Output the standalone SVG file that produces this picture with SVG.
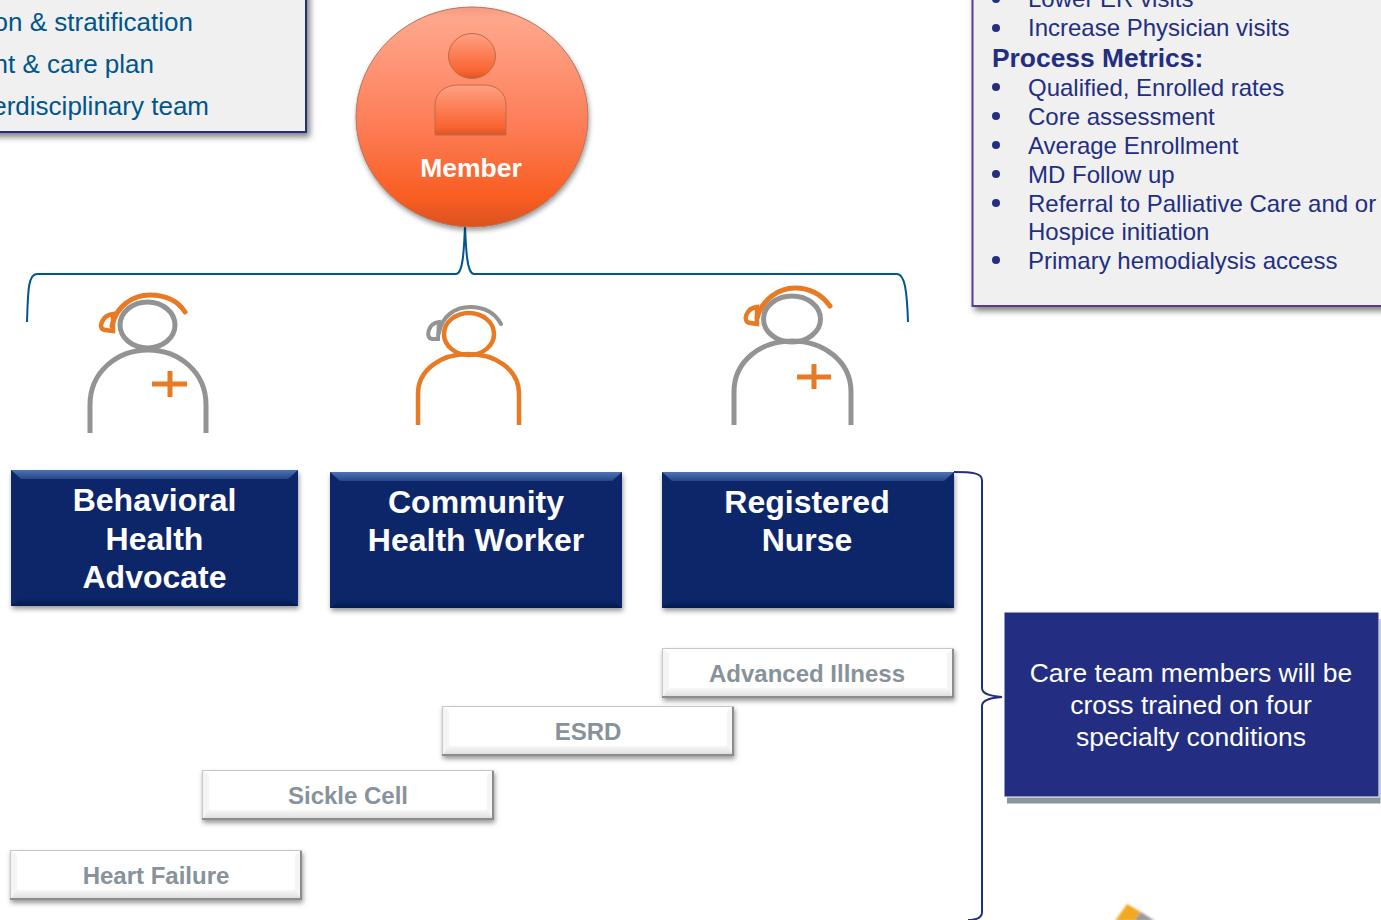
<svg xmlns="http://www.w3.org/2000/svg" width="1381" height="920" viewBox="0 0 1381 920">
<style>
text{font-family:"Liberation Sans",Arial,sans-serif}
.b{font-size:26px;fill:#00558c}
.m{font-size:24px;fill:#232e82}
.h{font-size:26.400px;font-weight:bold;fill:#232e82}
.r{font-size:32px;font-weight:bold;fill:#fff;text-anchor:middle}
.s{font-size:24px;font-weight:bold;fill:#87929a;text-anchor:middle}
.c{font-size:26.500px;fill:#fff;text-anchor:middle}
.conn{fill:none;stroke-width:2}
.gray{fill:none;stroke:#939393;stroke-width:5}
.org{fill:none;stroke:#e97a24;stroke-width:4.500}
.gt{fill:none;stroke:#939393;stroke-width:4;stroke-linecap:round}
.ot{fill:none;stroke:#e97a24;stroke-width:5;stroke-linecap:round}
.plus{fill:none;stroke:#e97a24;stroke-width:5}
.navy{fill:#08266a}
.tb{fill:url(#navTop)}
.bb{fill:url(#navBot)}
.white{fill:#fff;stroke:#c8c8c8;stroke-width:1}
.wb{fill:url(#whtB)}
.ws{fill:#f4f4f4}
.edge{fill:none;stroke:#8c8c8c;stroke-width:2}
</style>
<defs>
<filter id="sh" x="-10%" y="-10%" width="120%" height="130%"><feDropShadow dx="1" dy="3" stdDeviation="2.500" flood-color="#000" flood-opacity=".4"/></filter>
<filter id="sh2" x="-10%" y="-10%" width="120%" height="130%"><feDropShadow dx="3" dy="4" stdDeviation="3" flood-color="#000" flood-opacity=".5"/></filter>
<filter id="blur1" x="-20%" y="-20%" width="140%" height="140%"><feGaussianBlur stdDeviation="1.200"/></filter>
<linearGradient id="ball" x1="0" y1="0" x2="0" y2="1"><stop offset="0" stop-color="#f39a80"/><stop offset=".05" stop-color="#ffa78d"/><stop offset=".55" stop-color="#fd7c56"/><stop offset=".86" stop-color="#f95e22"/><stop offset="1" stop-color="#d9531f"/></linearGradient>
<linearGradient id="fig" x1="0" y1="0" x2="0" y2="1"><stop offset="0" stop-color="#ffa084"/><stop offset=".85" stop-color="#f9632f"/><stop offset="1" stop-color="#d8562a"/></linearGradient>
<linearGradient id="navTop" x1="0" y1="0" x2="0" y2="1"><stop offset="0" stop-color="#5071b4"/><stop offset="1" stop-color="#264689"/></linearGradient>
<linearGradient id="navBot" x1="0" y1="0" x2="0" y2="1"><stop offset="0" stop-color="#08266a"/><stop offset="1" stop-color="#041a4c"/></linearGradient>
<linearGradient id="whtB" x1="0" y1="0" x2="0" y2="1"><stop offset="0" stop-color="#f8f8f8"/><stop offset="1" stop-color="#dcdcdc"/></linearGradient>
</defs>

<g id="scope-box"><rect x="-20" y="-10" width="326" height="142" fill="#f0f0f0" stroke="#232e82" stroke-width="2" filter="url(#sh2)"/>
<text class="b" x="193" y="31" text-anchor="end">on &amp; stratification</text>
<text class="b" x="154" y="73" text-anchor="end">nt &amp; care plan</text>
<text class="b" x="209" y="115" text-anchor="end">erdisciplinary team</text></g>

<g id="metrics-box"><rect x="972.500" y="-10" width="430" height="316" fill="#f0f0f0" stroke="#5a3d8a" stroke-width="2" filter="url(#sh2)"/>
<g fill="#232e82"><circle cx="996" cy="-1" r="4"/><circle cx="996" cy="28" r="4"/><circle cx="996" cy="87" r="4"/><circle cx="996" cy="116" r="4"/><circle cx="996" cy="145" r="4"/><circle cx="996" cy="174" r="4"/><circle cx="996" cy="203" r="4"/><circle cx="996" cy="260" r="4"/></g>
<text class="m" x="1028" y="7">Lower ER visits</text>
<text class="m" x="1028" y="36">Increase Physician visits</text>
<text class="h" x="992" y="67">Process Metrics:</text>
<text class="m" x="1028" y="96">Qualified, Enrolled rates</text>
<text class="m" x="1028" y="125">Core assessment</text>
<text class="m" x="1028" y="154">Average Enrollment</text>
<text class="m" x="1028" y="183">MD Follow up</text>
<text class="m" x="1028" y="212">Referral to Palliative Care and or</text>
<text class="m" x="1028" y="240">Hospice initiation</text>
<text class="m" x="1028" y="269">Primary hemodialysis access</text></g>

<g id="connectors">
<path class="conn" stroke="#00558c" d="M27 322C28 292 28 274 37 274H456C463 274 464 250 465 226C466 250 467 274 474 274H897C905 274 907 292 908 322"/>
<path class="conn" stroke="#232e82" d="M954 472C972 472 982 473 982 480V688C982 694 990 696 1002 697C990 698 982 700 982 706V912C982 918 976 920 968 920"/>
</g>

<g id="member"><ellipse cx="472" cy="117" rx="116" ry="110" fill="url(#ball)" stroke="#b4765f" stroke-width="1" filter="url(#sh)"/>
<ellipse cx="472" cy="56" rx="23.500" ry="22.500" fill="url(#fig)" stroke="#c06a48" stroke-width="1"/>
<path d="M435 135V105C435 92 446 85 458 85H484C496 85 506 92 506 105V135Z" fill="url(#fig)" stroke="#c06a48" stroke-width="1"/>
<text x="471" y="177" font-size="26.500" font-weight="bold" fill="#fff" text-anchor="middle">Member</text></g>

<g id="icon-advocate">
<ellipse class="gray" cx="147.500" cy="325" rx="27.500" ry="23"/>
<path class="gray" d="M90 433V405C90 371 118 350 148 350C178 350 206 371 206 405V433"/>
<path class="ot" d="M112 326C116 306 133 295 150 295C165 295 178 301 185 312"/>
<path class="org" d="M113 314C102 315 97 329 105 330L113 331Z"/>
<path class="plus" d="M152 384H187M170 371V397"/></g>

<g id="icon-chw">
<ellipse class="org" cx="469" cy="334" rx="25" ry="21"/>
<path class="org" d="M418 425V394C418 369 442 354 468 354C495 354 519 369 519 394V425"/>
<path class="gt" d="M439 333C442 316 455 307 470 307C484 307 495 313 501 324"/>
<path d="M439 322C428 323 425 338 432 339L438 339Z" fill="none" stroke="#939393" stroke-width="4"/></g>

<g id="icon-nurse">
<ellipse class="gray" cx="792" cy="319" rx="28.500" ry="23"/>
<path class="gray" d="M734 425V392C734 360 762 341 792 341C822 341 851 360 851 392V425"/>
<path class="ot" d="M757 318C762 300 778 288 795 288C810 288 822 295 830 306"/>
<path class="org" d="M757 307C746 308 742 322 750 323L757 324Z"/>
<path class="plus" d="M797 377H831M814 364V389"/></g>

<g id="role-advocate"><rect class="navy" x="11" y="470" width="287" height="136" filter="url(#sh)"/><path class="tb" d="M11 470H298L288 479H21Z"/><path class="bb" d="M11 606H298L288 598H21Z"/>
<text class="r" x="154.500" y="511">Behavioral</text><text class="r" x="154.500" y="550">Health</text><text class="r" x="154.500" y="588">Advocate</text></g>

<g id="role-chw"><rect class="navy" x="330" y="472" width="292" height="136" filter="url(#sh)"/><path class="tb" d="M330 472H622L612 481H340Z"/><path class="bb" d="M330 608H622L612 600H340Z"/>
<text class="r" x="476" y="513">Community</text><text class="r" x="476" y="551">Health Worker</text></g>

<g id="role-nurse"><rect class="navy" x="662" y="472" width="292" height="136" filter="url(#sh)"/><path class="tb" d="M662 472H954L944 481H672Z"/><path class="bb" d="M662 608H954L944 600H672Z"/>
<text class="r" x="807" y="513">Registered</text><text class="r" x="807" y="551">Nurse</text></g>

<g id="advanced-illness"><rect class="white" x="662.500" y="648.500" width="291" height="49" filter="url(#sh)"/><path class="ws" d="M663 649V697L669 690V653ZM953 649V697L947 690V653Z"/><path class="wb" d="M663 697H953L947 688H669Z"/><path class="edge" d="M662 697H953V649"/>
<text class="s" x="807" y="682">Advanced Illness</text></g>

<g id="esrd"><rect class="white" x="442.500" y="706.500" width="291" height="49" filter="url(#sh)"/><path class="ws" d="M443 707V755L449 748V711ZM733 707V755L727 748V711Z"/><path class="wb" d="M443 755H733L727 746H449Z"/><path class="edge" d="M442 755H733V707"/>
<text class="s" x="588" y="740">ESRD</text></g>

<g id="sickle-cell"><rect class="white" x="202.500" y="770.500" width="291" height="49" filter="url(#sh)"/><path class="ws" d="M203 771V819L209 812V775ZM493 771V819L487 812V775Z"/><path class="wb" d="M203 819H493L487 810H209Z"/><path class="edge" d="M202 819H493V771"/>
<text class="s" x="348" y="804">Sickle Cell</text></g>

<g id="heart-failure"><rect class="white" x="10.500" y="850.500" width="291" height="49" filter="url(#sh)"/><path class="ws" d="M11 851V899L17 892V855ZM301 851V899L295 892V855Z"/><path class="wb" d="M11 899H301L295 890H17Z"/><path class="edge" d="M10 899H301V851"/>
<text class="s" x="156" y="884">Heart Failure</text></g>

<g id="care-note"><rect x="1007" y="619" width="373.500" height="184.500" fill="#8a959c"/><rect x="1004" y="612" width="375" height="185" fill="#232e82" stroke="#fff" stroke-width="1"/>
<text class="c" x="1191" y="682">Care team members will be</text><text class="c" x="1191" y="714">cross trained on four</text><text class="c" x="1191" y="746">specialty conditions</text></g>

<g id="pencil" filter="url(#blur1)"><path d="M1115 921L1127 904L1141 912L1134 921Z" fill="#f2a922"/><path d="M1141 912L1155 921H1134Z" fill="#9a9a9a"/></g>
</svg>
